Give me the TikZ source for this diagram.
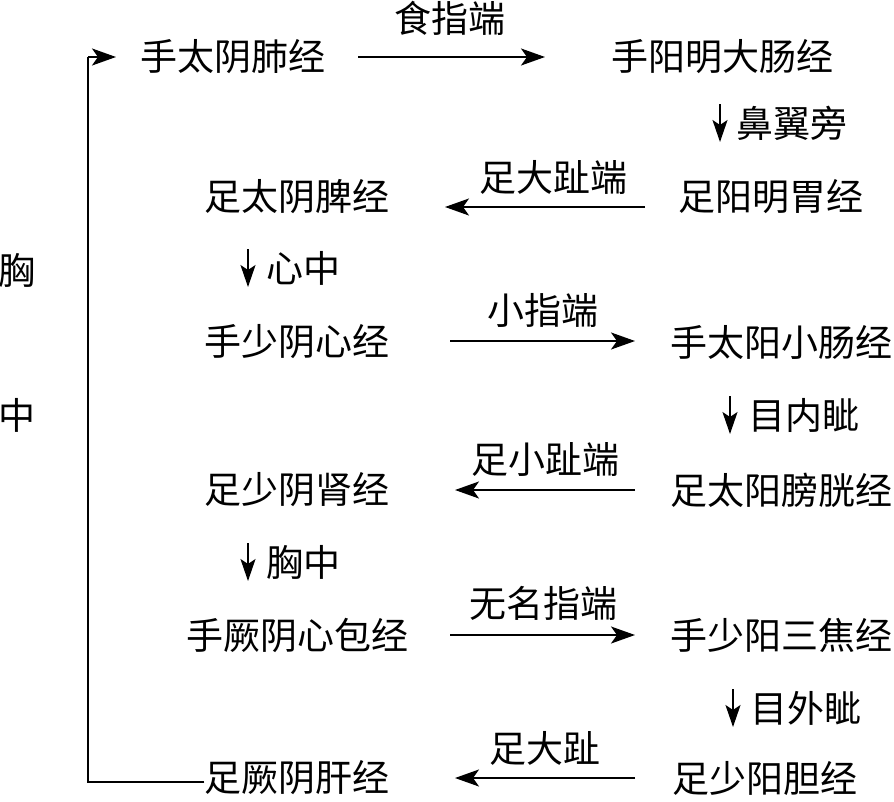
\documentclass[tikz,border=0pt]{standalone}
\usepackage{fontspec}
\setmainfont{Noto Sans CJK SC}
\usetikzlibrary{arrows.meta}
\tikzset{
  mer/.style={inner sep=0pt, font=\fontsize{37}{39}\selectfont},
  lab/.style={inner sep=0pt, font=\fontsize{37}{39}\selectfont},
  arr/.style={line width=2pt, -{Stealth[length=24pt,width=17pt,inset=6pt]}},
  darr/.style={line width=2pt, -{Stealth[length=22pt,width=15pt,inset=5pt]}},
  frame/.style={line width=2pt}
}
\begin{document}
\begin{tikzpicture}[x=1pt,y=-1pt]
\useasboundingbox (0,0) rectangle (894,801);
% meridian nodes
\node[mer] (l1) at (233,57) {手太阴肺经};
\node[mer] (r1) at (722,57) {手阳明大肠经};
\node[mer] (l2) at (297,197) {足太阴脾经};
\node[mer] (r2) at (771,197) {足阳明胃经};
\node[mer] (l3) at (297,342) {手少阴心经};
\node[mer] (r3) at (781,342) {手太阳小肠经};
\node[mer] (l4) at (297,490) {足少阴肾经};
\node[mer] (r4) at (781,490) {足太阳膀胱经};
\node[mer] (l5) at (297,635) {手厥阴心包经};
\node[mer] (r5) at (781,635) {手少阳三焦经};
\node[mer] (l6) at (297,778) {足厥阴肝经};
\node[mer] (r6) at (765,778) {足少阳胆经};
% horizontal labels
\node[lab] (t1) at (450,18) {食指端};
\node[lab] (t2) at (553,177) {足大趾端};
\node[lab] (t3) at (543,310) {小指端};
\node[lab] (t4) at (545,460) {足小趾端};
\node[lab] (t5) at (543,603) {无名指端};
\node[lab] (t6) at (545,748) {足大趾};
% horizontal connectors
\draw[arr] (358,57) -- (545,57);
\draw[arr] (645,207) -- (445,207);
\draw[arr] (450,341) -- (635,341);
\draw[arr] (635,490) -- (455,490);
\draw[arr] (450,635) -- (635,635);
\draw[arr] (635,778) -- (455,778);
% vertical labels with down arrows
\node[lab, anchor=west] (v1) at (736,123) {鼻翼旁};
\draw[darr] (720,104) -- (720,142);
\node[lab, anchor=west] (v2) at (266,268) {心中};
\draw[darr] (248,249) -- (248,287);
\node[lab, anchor=west] (v3) at (748,415) {目内眦};
\draw[darr] (730,396) -- (730,434);
\node[lab, anchor=west] (v4) at (266,562) {胸中};
\draw[darr] (248,543) -- (248,581);
\node[lab, anchor=west] (v5) at (750,708) {目外眦};
\draw[darr] (733,689) -- (733,727);
% side label
\node[lab] (s1) at (17,270) {胸};
\node[lab] (s2) at (17,415) {中};
% return path
\coordinate (c1) at (88,782);
\coordinate (c2) at (88,57);
\draw[frame] (l6.west |- c1) -- (c1) -- (c2);
\draw[arr] (c2) -- (116,57);
\end{tikzpicture}
\end{document}
